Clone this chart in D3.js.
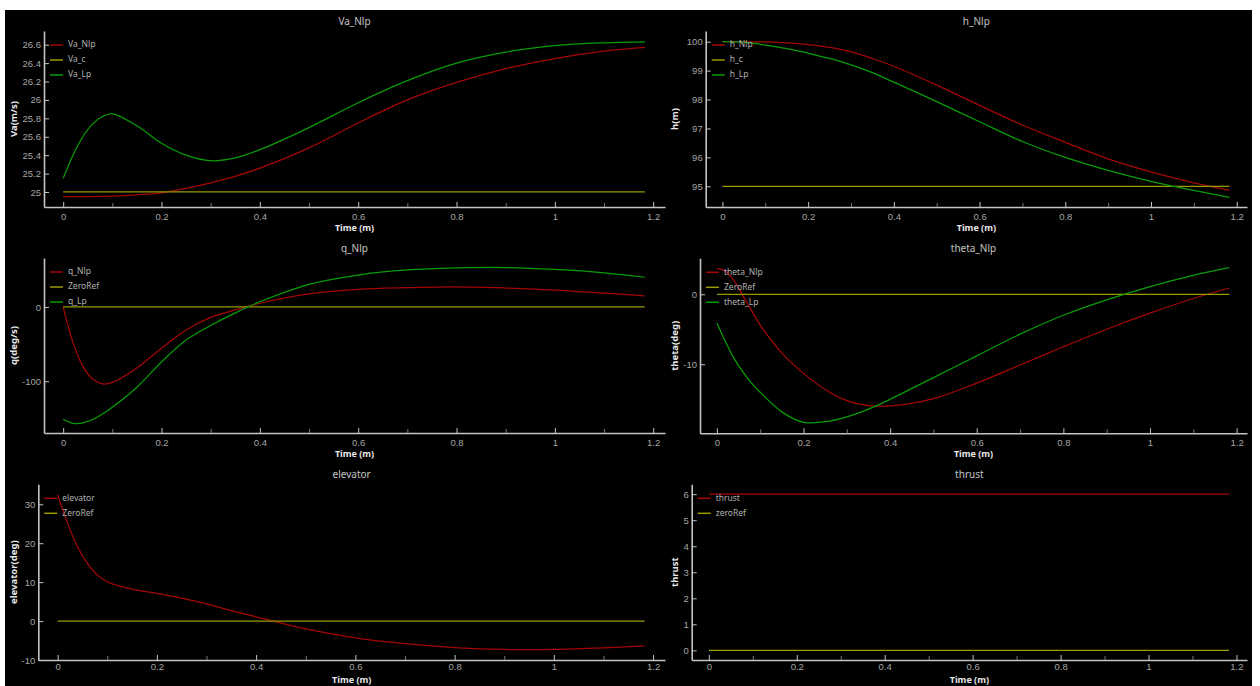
<!DOCTYPE html>
<html><head><meta charset="utf-8">
<script src="https://cdn.jsdelivr.net/npm/d3@7"></script>
<style>
html,body{margin:0;padding:0;background:#fff;}
svg{display:block;font-family:"Noto Sans","DejaVu Sans",sans-serif;}
</style></head>
<body>
<svg id="chart" width="1260" height="686"></svg>
<script>
// ---------------- data ----------------
const time = [0, 0.02, 0.04, 0.06, 0.08, 0.1, 0.15, 0.2, 0.25, 0.3, 0.35, 0.4, 0.5, 0.6, 0.7, 0.8, 0.9, 1.0, 1.1, 1.183];

const vaNlp = [24.95, 24.95, 24.95, 24.951, 24.953, 24.956, 24.97, 24.99, 25.04, 25.10, 25.17, 25.26, 25.48, 25.75, 26.0, 26.19, 26.34, 26.45, 26.53, 26.57];
const vaC   = [25, 25, 25, 25, 25, 25, 25, 25, 25, 25, 25, 25, 25, 25, 25, 25, 25, 25, 25, 25];
const vaLp  = [25.15, 25.40, 25.60, 25.74, 25.82, 25.85, 25.72, 25.53, 25.40, 25.34, 25.37, 25.46, 25.70, 25.97, 26.21, 26.40, 26.52, 26.59, 26.62, 26.63];

const hNlp = [100, 100, 100, 99.998, 99.995, 99.99, 99.96, 99.90, 99.80, 99.65, 99.42, 99.15, 98.50, 97.80, 97.12, 96.52, 95.95, 95.50, 95.12, 94.87];
const hC   = [95, 95, 95, 95, 95, 95, 95, 95, 95, 95, 95, 95, 95, 95, 95, 95, 95, 95, 95, 95];
const hLp  = [100, 99.998, 99.99, 99.97, 99.93, 99.88, 99.76, 99.60, 99.42, 99.20, 98.93, 98.60, 97.93, 97.23, 96.55, 96.00, 95.55, 95.17, 94.86, 94.62];

const qNlp = [0, -48, -80, -97, -103.5, -101.5, -82, -55.5, -31, -14, -4, 5, 17.5, 23.8, 26, 27, 25.5, 22.8, 18.5, 15];
const qRef = [0, 0, 0, 0, 0, 0, 0, 0, 0, 0, 0, 0, 0, 0, 0, 0, 0, 0, 0, 0];
const qLp  = [-151, -156.5, -156, -151.5, -144, -135, -108, -74, -44.5, -25, -8, 7, 30.5, 43, 49.8, 52.5, 53, 50.5, 46, 40];

const thetaNlp = [3.7, 3.3, 1.9, -0.2, -2.3, -4.4, -8.4, -11.3, -13.6, -15.2, -15.9, -15.95, -14.9, -12.7, -10.1, -7.5, -5.0, -2.7, -0.6, 0.9];
const thetaRef = [0, 0, 0, 0, 0, 0, 0, 0, 0, 0, 0, 0, 0, 0, 0, 0, 0, 0, 0, 0];
const thetaLp  = [-4.1, -6.8, -9.2, -11.1, -12.7, -14.0, -16.8, -18.3, -18.2, -17.5, -16.4, -15.0, -11.9, -8.8, -5.7, -3.0, -0.8, 1.1, 2.7, 3.8];

const elevator = [32.5, 25.1, 19.1, 14.8, 11.8, 10.1, 8.2, 7.1, 5.9, 4.4, 2.7, 1.1, -2.0, -4.3, -5.8, -6.8, -7.3, -7.3, -6.9, -6.4];
const elevRef  = [0, 0, 0, 0, 0, 0, 0, 0, 0, 0, 0, 0, 0, 0, 0, 0, 0, 0, 0, 0];

const thrust    = [6, 6, 6, 6, 6, 6, 6, 6, 6, 6, 6, 6, 6, 6, 6, 6, 6, 6, 6, 6];
const thrustRef = [0, 0, 0, 0, 0, 0, 0, 0, 0, 0, 0, 0, 0, 0, 0, 0, 0, 0, 0, 0];

// tick values
const xTicks = [0, 0.2, 0.4, 0.6, 0.8, 1, 1.2];
const xMinorTicks = [0.1, 0.3, 0.5, 0.7, 0.9, 1.1];
const vaTicks = [25, 25.2, 25.4, 25.6, 25.8, 26, 26.2, 26.4, 26.6];
const hTicks = [95, 96, 97, 98, 99, 100];
const qTicks = [-100, 0];
const thetaTicks = [-10, 0];
const elevTicks = [-10, 0, 10, 20, 30];
const thrustTicks = [0, 1, 2, 3, 4, 5, 6];

// ---------------- style / layout ----------------
const RED = "#a50606", YEL = "#9a9a00", GRN = "#089c08";
const xDomain = [-0.039, 1.224];

const panels = [
  {title: "Va_Nlp", ylabel: "Va(m/s)", box: {l: 44, t: 31, r: 665, b: 207}, yDomain: [24.837, 26.749], yTicks: vaTicks,
   series: [["Va_Nlp", vaNlp, RED], ["Va_c", vaC, YEL], ["Va_Lp", vaLp, GRN]], ylx: 14, xly: 229, pad: 6},
  {title: "h_Nlp", ylabel: "h(m)", box: {l: 705.7, t: 31, r: 1247, b: 207}, yDomain: [94.284, 100.37], yTicks: hTicks,
   series: [["h_Nlp", hNlp, RED], ["h_c", hC, YEL], ["h_Lp", hLp, GRN]], ylx: 675, xly: 229, pad: 6},
  {title: "q_Nlp", ylabel: "q(deg/s)", box: {l: 44, t: 258, r: 665, b: 433}, yDomain: [-169.6, 65.9], yTicks: qTicks,
   series: [["q_Nlp", qNlp, RED], ["ZeroRef", qRef, YEL], ["q_Lp", qLp, GRN]], ylx: 14, xly: 455, pad: 6},
  {title: "theta_Nlp", ylabel: "theta(deg)", box: {l: 700, t: 258.3, r: 1247, b: 433.3}, yDomain: [-19.86, 5.14], yTicks: thetaTicks,
   series: [["theta_Nlp", thetaNlp, RED], ["ZeroRef", thetaRef, YEL], ["theta_Lp", thetaLp, GRN]], ylx: 675, xly: 455, pad: 6},
  {title: "elevator", ylabel: "elevator(deg)", box: {l: 38.3, t: 484.3, r: 665, b: 660}, yDomain: [-10, 35.14], yTicks: elevTicks,
   series: [["elevator", elevator, RED], ["ZeroRef", elevRef, YEL]], ylx: 14, xly: 680.5, pad: 3.5},
  {title: "thrust", ylabel: "thrust", box: {l: 691.7, t: 484.3, r: 1247, b: 660}, yDomain: [-0.37, 6.38], yTicks: thrustTicks,
   series: [["thrust", thrust, RED], ["zeroRef", thrustRef, YEL]], ylx: 675, xly: 680.5, pad: 3.5}
];

const svg = d3.select("#chart");
svg.append("rect").attr("x", 5).attr("y", 10).attr("width", 1247).attr("height", 676).attr("fill", "#000");

const fmt = v => String(+v.toFixed(3));

panels.forEach((p, pi) => {
  const b = p.box;
  const x = d3.scaleLinear().domain(xDomain).range([b.l, b.r]);
  const y = d3.scaleLinear().domain(p.yDomain).range([b.b, b.t]);
  const g = svg.append("g");

  // series
  const clipId = "clip" + pi;
  svg.append("clipPath").attr("id", clipId).append("rect")
    .attr("x", b.l).attr("y", b.t).attr("width", b.r - b.l).attr("height", b.b - b.t);
  const line = d3.line().x((d, i) => x(time[i])).y(d => y(d)).curve(d3.curveCatmullRom.alpha(0.5));
  const sg = g.append("g").attr("clip-path", `url(#${clipId})`);
  p.series.forEach(s => {
    sg.append("path").attr("d", line(s[1])).attr("fill", "none")
      .attr("stroke", s[2]).attr("stroke-width", 1.25);
  });

  // axes
  const xa = g.append("g").attr("transform", `translate(0,${b.b})`)
    .call(d3.axisBottom(x).tickValues(xTicks).tickFormat(fmt).tickSize(-5).tickSizeOuter(0).tickPadding(p.pad));
  const xm = g.append("g").attr("transform", `translate(0,${b.b})`)
    .call(d3.axisBottom(x).tickValues(xMinorTicks).tickFormat("").tickSize(-4).tickSizeOuter(0));
  xm.select(".domain").remove();
  xm.selectAll("line").attr("stroke", "#777");
  const ya = g.append("g").attr("transform", `translate(${b.l},0)`)
    .call(d3.axisLeft(y).tickValues(p.yTicks).tickFormat(fmt).tickSize(-5).tickSizeOuter(0).tickPadding(3));
  [xa, ya].forEach(a => {
    a.select(".domain").attr("stroke", "#c4c4c4").attr("stroke-width", 1.6);
    a.selectAll(".tick line").attr("stroke", "#c4c4c4");
    a.selectAll(".tick text").attr("fill", "#a6a6a6").attr("font-size", 9.5);
  });

  // title
  const cx = (b.l + b.r) / 2;
  g.append("text").attr("x", cx).attr("y", b.t - 9).attr("text-anchor", "middle")
    .attr("dominant-baseline", "middle").attr("fill", "#c4c4c4").attr("font-size", 10).text(p.title);
  // x label
  g.append("text").attr("x", cx).attr("y", p.xly).attr("text-anchor", "middle")
    .attr("dominant-baseline", "middle").attr("fill", "#e8e8e8").attr("font-size", 9)
    .attr("font-weight", "bold").text("Time (m)");
  // y label
  g.append("text").attr("transform", `translate(${p.ylx},${(b.t + b.b) / 2}) rotate(-90)`)
    .attr("text-anchor", "middle").attr("dominant-baseline", "middle").attr("fill", "#e8e8e8")
    .attr("font-size", 9.5).attr("font-weight", "bold").text(p.ylabel);

  // legend
  const lg = g.append("g").attr("transform", `translate(${b.l + 6},${b.t + 14})`);
  p.series.forEach((s, i) => {
    lg.append("line").attr("x1", 0).attr("x2", 13).attr("y1", i * 15).attr("y2", i * 15)
      .attr("stroke", s[2]).attr("stroke-width", 1.5);
    lg.append("text").attr("x", 18).attr("y", i * 15).attr("dominant-baseline", "middle")
      .attr("fill", "#b0b0b0").attr("font-size", 8.5).text(s[0]);
  });
});
</script>
</body></html>
